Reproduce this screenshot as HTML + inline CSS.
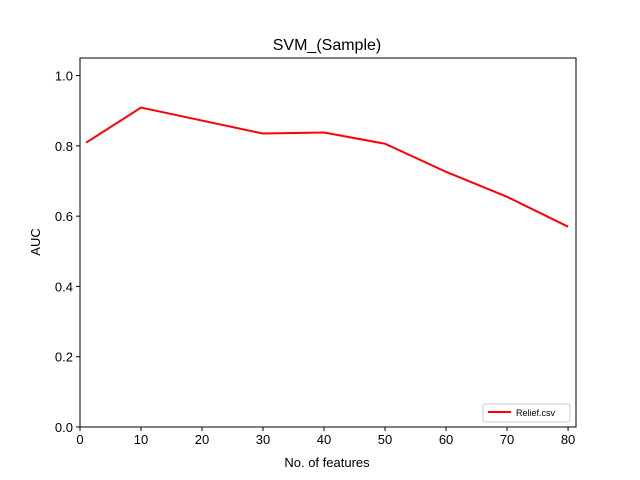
<!DOCTYPE html>
<html><head><meta charset="utf-8"><style>
body{margin:0;background:#fff}
svg{display:block;font-family:"Liberation Sans","DejaVu Sans",sans-serif}
</style></head><body>
<svg id="chart" width="640" height="480">
<rect width="640" height="480" fill="#fff"/>
<text x="327" y="50" text-anchor="middle" font-size="16">SVM_(Sample)</text>
<g id="ticks"></g>
<polyline id="line" fill="none" stroke="#f00" stroke-width="2"/>
<rect x="80" y="58" width="496" height="369" fill="none" stroke="#000" stroke-width="1"/>
<text x="327" y="467" text-anchor="middle" font-size="13">No. of features</text>
<text transform="translate(40,242) rotate(-90)" text-anchor="middle" font-size="13">AUC</text>
<g>
<rect x="483" y="404" width="87" height="18" fill="#fff" stroke="#ccc" rx="2"/>
<line x1="488" y1="412" x2="511" y2="412" stroke="#f00" stroke-width="2"/>
<text x="516" y="416" font-size="9">Relief.csv</text>
</g>
</svg>
<script>
const features=[1,10,20,30,40,50,60,70,80];
const aucValues=[0.809,0.909,0.872,0.835,0.838,0.806,0.726,0.655,0.570];
const xTicks=[0,10,20,30,40,50,60,70,80];
const yTicks=[0.0,0.2,0.4,0.6,0.8,1.0];
const X0=80,X1=576,Y0=427,Y1=58,xmin=0,xmax=81.3,ymin=0,ymax=1.05;
const sx=v=>X0+(v-xmin)/(xmax-xmin)*(X1-X0);
const sy=v=>Y0-(v-ymin)/(ymax-ymin)*(Y0-Y1);
const NS="http://www.w3.org/2000/svg";
const g=document.getElementById('ticks');
function mk(t,a){const e=document.createElementNS(NS,t);for(const k in a)e.setAttribute(k,a[k]);g.appendChild(e);return e;}
xTicks.forEach(v=>{
 const l=mk('line',{x1:sx(v),x2:sx(v),y1:Y0,y2:Y0+4,stroke:'#000'});
 
 
 const t=mk('text',{x:sx(v),y:Y0+17,'text-anchor':'middle','font-size':13});
 t.textContent=v;
 
 
});
yTicks.forEach(v=>{
 const l=mk('line',{x1:X0-4,x2:X0,y1:sy(v),y2:sy(v),stroke:'#000'});
 
 
 const t=mk('text',{x:X0-7,y:sy(v)+5,'text-anchor':'end','font-size':13});
 t.textContent=v.toFixed(1);
 
 
});
document.getElementById('line').setAttribute('points',features.map((f,i)=>sx(f)+','+sy(aucValues[i])).join(' '));
</script>
</body></html>
